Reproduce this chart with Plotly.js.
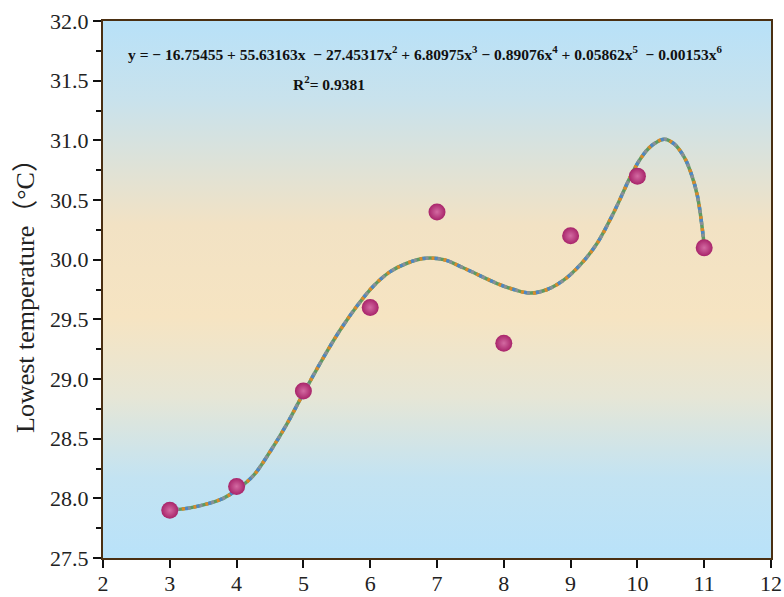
<!DOCTYPE html>
<html>
<head>
<meta charset="utf-8">
<script src="https://cdn.plot.ly/plotly-3.0.1.min.js"></script>
<style>html,body{margin:0;padding:0;background:#fff;}#chart{width:784px;height:597px;}</style>
</head>
<body>
<div id="chart"></div>
<script>
// Observed data (month vs lowest temperature)
const months = [3, 4, 5, 6, 7, 8, 9, 10, 11];
const lowestTemp = [27.9, 28.1, 28.9, 29.6, 30.4, 29.3, 30.2, 30.7, 30.1];

// Fitted curve
const fitX = [3.0, 3.3, 3.6, 3.8, 4.0, 4.25, 4.5, 4.75, 5.0, 5.3, 5.55, 5.8, 6.05, 6.3, 6.55, 6.8, 7.1, 7.4, 7.9, 8.15, 8.4, 8.65, 8.9, 9.15, 9.4, 9.65, 9.9, 10.05, 10.2, 10.4, 10.55, 10.7, 10.8, 10.9, 11.0];
const fitY = [27.90, 27.92, 27.96, 28.00, 28.07, 28.19, 28.39, 28.62, 28.88, 29.18, 29.41, 29.61, 29.78, 29.90, 29.97, 30.01, 30.00, 29.93, 29.80, 29.75, 29.72, 29.75, 29.83, 29.96, 30.14, 30.40, 30.70, 30.85, 30.95, 31.01, 30.97, 30.86, 30.73, 30.53, 30.12];

const xTicks = [2, 3, 4, 5, 6, 7, 8, 9, 10, 11, 12];
const yTicks = [27.5, 28.0, 28.5, 29.0, 29.5, 30.0, 30.5, 31.0, 31.5, 32.0];

const equationText = 'y = − 16.75455 + 55.63163x  − 27.45317x<sup>2</sup> + 6.80975x<sup>3</sup> − 0.89076x<sup>4</sup> + 0.05862x<sup>5</sup>  − 0.00153x<sup>6</sup>';
const r2Text = 'R<sup>2</sup>= 0.9381';
const CJK = 'font-family:Noto Sans CJK SC';
const yTitle = 'Lowest temperature<span style="' + CJK + '">（</span>°C<span style="' + CJK + '">）</span>';

const SERIF = 'Liberation Serif, Times New Roman, serif';

const bgSvg = '<svg xmlns="http://www.w3.org/2000/svg" width="100" height="100" preserveAspectRatio="none">' +
  '<defs><linearGradient id="g" x1="0" y1="0" x2="0" y2="1">' +
  '<stop offset="0" stop-color="#b8e1f8"/>' +
  '<stop offset="0.15" stop-color="#c9e2ec"/>' +
  '<stop offset="0.38" stop-color="#f2e2c4"/>' +
  '<stop offset="0.55" stop-color="#f6e4c2"/>' +
  '<stop offset="0.70" stop-color="#e6e6d6"/>' +
  '<stop offset="0.85" stop-color="#c3e3f2"/>' +
  '<stop offset="1" stop-color="#b9e2f9"/>' +
  '</linearGradient></defs><rect width="100" height="100" fill="url(#g)"/></svg>';
const bgUri = 'data:image/svg+xml;base64,' + btoa(bgSvg);

const lineBase = {x: fitX, y: fitY, mode: 'lines', hoverinfo: 'skip', showlegend: false};
const traces = [
  Object.assign({}, lineBase, {line: {color: '#5e9a62', width: 3.5, shape: 'spline', smoothing: 1}}),
  Object.assign({}, lineBase, {line: {color: '#d98a2a', width: 3.5, shape: 'spline', smoothing: 1, dash: '3px,9px'}}),
  Object.assign({}, lineBase, {line: {color: '#4f86c6', width: 3.5, shape: 'spline', smoothing: 1, dash: '0px,3px,3px,6px'}}),
  Object.assign({}, lineBase, {line: {color: '#8a8f98', width: 3.5, shape: 'spline', smoothing: 1, dash: '0px,6px,3px,3px'}}),
  {
    x: months, y: lowestTemp, mode: 'markers', showlegend: false,
    marker: {size: 17, color: '#a8246a', line: {width: 0},
      gradient: {type: 'radial', color: '#d36aa2'}}
  }
];

const layout = {
  width: 784, height: 597,
  margin: {l: 103, r: 13, t: 21, b: 39},
  paper_bgcolor: '#ffffff',
  plot_bgcolor: 'rgba(0,0,0,0)',
  font: {family: SERIF, color: '#222'},
  xaxis: {
    range: [2, 12], tickvals: xTicks, ticktext: xTicks.map(String),
    showgrid: false, zeroline: false,
    showline: true, linecolor: '#4a2f12', linewidth: 2, mirror: true,
    ticks: 'outside', ticklen: 8, tickwidth: 2, tickcolor: '#111',
    ticklabelstandoff: -3,
    tickfont: {size: 22, family: SERIF, color: '#222'}
  },
  yaxis: {
    range: [27.5, 32.0], tickvals: yTicks, ticktext: yTicks.map(v => v.toFixed(1)),
    showgrid: false, zeroline: false,
    showline: true, linecolor: '#4a2f12', linewidth: 2, mirror: true,
    ticks: 'outside', ticklen: 8, tickwidth: 2, tickcolor: '#111',
    minor: {dtick: 0.25, tick0: 27.5, ticks: 'outside', ticklen: 5, tickwidth: 2, tickcolor: '#111', showgrid: false},
    tickfont: {size: 22, family: SERIF, color: '#222'},
    title: {text: yTitle, font: {size: 26, family: SERIF, color: '#222'}, standoff: 8}
  },
  images: [{
    source: bgUri, xref: 'paper', yref: 'paper', x: 0, y: 1, sizex: 1, sizey: 1,
    xanchor: 'left', yanchor: 'top', sizing: 'stretch', layer: 'below'
  }],
  annotations: [
    {text: '<b>' + equationText + '</b>', xref: 'paper', yref: 'paper', x: 0.035, y: 0.94,
     xanchor: 'left', yanchor: 'middle', showarrow: false,
     font: {size: 15.5, family: SERIF, color: '#111'}},
    {text: '<b>' + r2Text + '</b>', xref: 'paper', yref: 'paper', x: 0.281, y: 0.885,
     xanchor: 'left', yanchor: 'middle', showarrow: false,
     font: {size: 15.5, family: SERIF, color: '#111'}}
  ]
};

Plotly.newPlot('chart', traces, layout, {displayModeBar: false, staticPlot: true});
</script>
</body>
</html>
